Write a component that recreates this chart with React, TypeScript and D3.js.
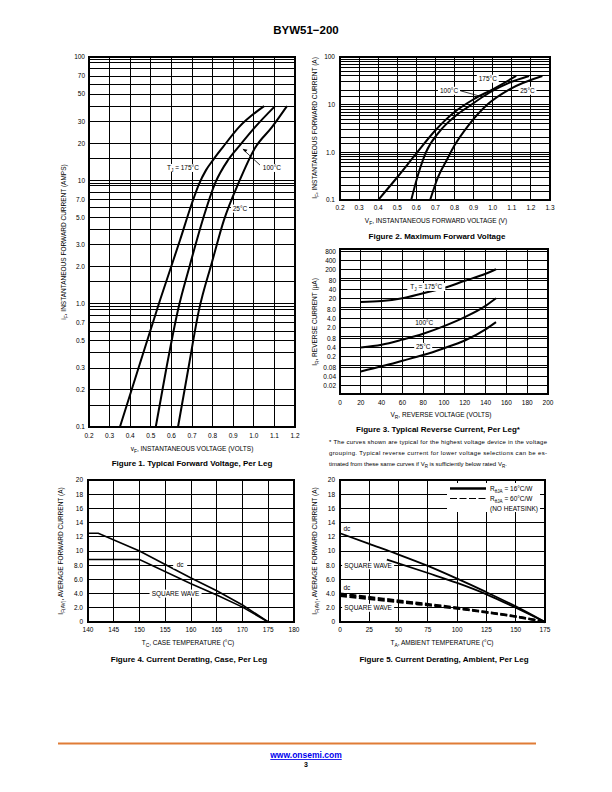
import React from "react";
import * as d3 from "d3";

const FONT = "'Liberation Sans Narrow','Liberation Sans',Arial,Helvetica,sans-serif";
const BOLD = "'Liberation Sans',Arial,Helvetica,sans-serif";

// ---------- Figure 1 : Typical forward voltage ----------
const fig1XTicks = [0.2, 0.3, 0.4, 0.5, 0.6, 0.7, 0.8, 0.9, 1.0, 1.1, 1.2];
const fig1XTickText = ["0.2", "0.3", "0.4", "0.5", "0.6", "0.7", "0.8", "0.9", "1.0", "1.1", "1.2"];
const fig1YTicks = [100, 70, 50, 30, 20, 10, 7, 5, 3, 2, 1, 0.7, 0.5, 0.3, 0.2, 0.1];
const fig1YTickText = ["100", "70", "50", "30", "20", "10", "7.0", "5.0", "3.0", "2.0", "1.0", "0.7", "0.5", "0.3", "0.2", "0.1"];
const fig1GridMults = [1, 1.5, 2, 3, 4, 5, 6, 7, 8, 9, 9.5];
const fig1Decades = [0.1, 1, 10];
const fig1V175 = [0.35, 0.448, 0.545, 0.642, 0.7, 0.734, 0.768, 0.802, 0.85, 0.928, 1.05];
const fig1I175 = [0.1, 0.33, 1.07, 3.28, 6.55, 9.33, 12.1, 14.6, 18.6, 27, 40];
const fig1V100 = [0.524, 0.574, 0.632, 0.69, 0.749, 0.815, 0.875, 0.933, 1.006, 1.103];
const fig1I100 = [0.1, 0.29, 0.89, 2.06, 4.6, 9.7, 14.6, 19.3, 27, 40];
const fig1V25 = [0.632, 0.681, 0.734, 0.797, 0.855, 0.928, 1.006, 1.088, 1.161];
const fig1I25 = [0.1, 0.29, 0.89, 2.17, 4.76, 9.7, 18.3, 27, 40];

// ---------- Figure 2 : Maximum forward voltage ----------
const fig2XTicks = [0.2, 0.3, 0.4, 0.5, 0.6, 0.7, 0.8, 0.9, 1.0, 1.1, 1.2, 1.3];
const fig2XTickText = ["0.2", "0.3", "0.4", "0.5", "0.6", "0.7", "0.8", "0.9", "1.0", "1.1", "1.2", "1.3"];
const fig2YTicks = [100, 10, 1, 0.1];
const fig2YTickText = ["100", "10", "1.0", "0.1"];
const fig2GridMults = [1, 1.5, 2, 3, 4, 5, 6, 7, 8, 9];
const fig2Decades = [0.1, 1, 10];
const fig2VA = [0.4, 0.5, 0.6, 0.7, 0.8, 0.9, 1.0, 1.123];
const fig2IA = [0.1, 0.3, 0.95, 2.9, 7.0, 13, 21, 40];
const fig2VB = [0.573, 0.61, 0.65, 0.72, 0.8, 0.88, 0.984, 1.088, 1.19];
const fig2IB = [0.1, 0.35, 1.0, 2.7, 5.6, 9.5, 18, 29, 40];
const fig2VC = [0.672, 0.713, 0.76, 0.8, 0.871, 0.975, 1.088, 1.26];
const fig2IC = [0.1, 0.3, 0.7, 1.4, 3.6, 10.3, 21, 40];

// ---------- Figure 3 : Typical reverse current ----------
const fig3XTicks = [0, 20, 40, 60, 80, 100, 120, 140, 160, 180, 200];
const fig3YTicks = [800, 400, 200, 80, 40, 20, 8, 4, 2, 0.8, 0.4, 0.2, 0.08, 0.04, 0.02];
const fig3YTickText = ["800", "400", "200", "80", "40", "20", "8.0", "4.0", "2.0", "0.8", "0.4", "0.2", "0.08", "0.04", "0.02"];
const fig3GridMults = [1, 2, 4, 8];
const fig3Decades = [0.01, 0.1, 1, 10, 100];
const fig3VR = [20, 40, 60, 80, 100, 120, 140, 150];
const fig3I175 = [15, 16, 20, 30, 45, 80, 140, 200];
const fig3I100 = [0.4, 0.5, 0.75, 1.2, 2.2, 4.5, 11, 20];
const fig3I25 = [0.06, 0.09, 0.14, 0.22, 0.38, 0.7, 1.7, 3];

// ---------- Figure 4 : Current derating, case ----------
const fig4XTicks = [140, 145, 150, 155, 160, 165, 170, 175, 180];
const fig4YTicks = [0, 2, 4, 6, 8, 10, 12, 14, 16, 18, 20];
const fig4YTickText = ["0", "2.0", "4.0", "6.0", "8.0", "10", "12", "14", "16", "18", "20"];
const fig4TDc = [140, 142, 150, 160, 165, 170, 175];
const fig4IDc = [12.5, 12.5, 10, 6.2, 4.4, 2.4, 0];
const fig4TSq = [140, 150, 160, 165, 170, 175];
const fig4ISq = [8.8, 8.8, 5.4, 3.8, 2.1, 0];

// ---------- Figure 5 : Current derating, ambient ----------
const fig5XTicks = [0, 25, 50, 75, 100, 125, 150, 175];
const fig5YTicks = [0, 2, 4, 6, 8, 10, 12, 14, 16, 18, 20];
const fig5YTickText = ["0", "2.0", "4.0", "6.0", "8.0", "10", "12", "14", "16", "18", "20"];
const fig5TDc16 = [0, 25, 50, 75, 100, 125, 150, 175];
const fig5IDc16 = [12.5, 11.0, 9.5, 7.9, 6.1, 4.2, 2.2, 0];
const fig5TSq16 = [40, 75, 100, 125, 150, 175];
const fig5ISq16 = [8.8, 6.9, 5.5, 3.9, 2.0, 0];
const fig5TDc60 = [0, 50, 100, 125, 150, 175];
const fig5IDc60 = [4.0, 3.0, 2.0, 1.4, 0.8, 0];
const fig5TSq60 = [0, 50, 100, 125, 150, 175];
const fig5ISq60 = [3.7, 2.8, 1.9, 1.35, 0.75, 0];

type Sc = (v: number) => number;

function curvePath(xs: number[], ys: number[], sx: Sc, sy: Sc, curve: any = d3.curveMonotoneX) {
  const gen = d3
    .line<number>()
    .x((i) => sx(xs[i]))
    .y((i) => sy(ys[i]))
    .curve(curve);
  return gen(d3.range(xs.length)) || "";
}

function SubText(props: {
  x: number;
  y: number;
  main: string;
  sub: string;
  rest: string;
  size?: number;
  rotate?: boolean;
  anchor?: string;
}) {
  const s = props.size || 6.5;
  const tr = props.rotate ? `rotate(-90 ${props.x} ${props.y})` : undefined;
  return (
    <text x={props.x} y={props.y} fontSize={s} textAnchor={props.anchor || "middle"} transform={tr} fontFamily={FONT}>
      {props.main}
      <tspan dy={1.6} fontSize={s * 0.75}>
        {props.sub}
      </tspan>
      <tspan dy={-1.6}>{props.rest}</tspan>
    </text>
  );
}

function BoxLabel(props: { cx: number; cy: number; w: number; h?: number; children: any }) {
  const h = props.h || 8;
  return (
    <g>
      <rect x={props.cx - props.w / 2} y={props.cy - h / 2} width={props.w} height={h} fill="#fff" />
      <text x={props.cx} y={props.cy + 2.3} fontSize={6.5} textAnchor="middle" fontFamily={FONT}>
        {props.children}
      </text>
    </g>
  );
}

function Grid(props: { sx: any; sy: any; xs: number[]; ys: number[]; x0: number; x1: number; y0: number; y1: number }) {
  const { sx, sy, xs, ys, x0, x1, y0, y1 } = props;
  return (
    <g stroke="#000" strokeWidth={1} shapeRendering="crispEdges">
      {xs.map((v, i) => (
        <line key={"v" + i} x1={sx(v)} x2={sx(v)} y1={y0} y2={y1} />
      ))}
      {ys.map((v, i) => (
        <line key={"h" + i} x1={x0} x2={x1} y1={sy(v)} y2={sy(v)} />
      ))}
      <rect x={x0} y={y0} width={x1 - x0} height={y1 - y0} fill="none" strokeWidth={1.2} />
    </g>
  );
}

function Fig1() {
  const L = 89, R = 295, T = 57, B = 427;
  const sx = d3.scaleLinear().domain([0.2, 1.2]).range([L, R]);
  const sy = d3.scaleLog().domain([0.1, 100]).range([B, T]);
  const hs = [...fig1Decades.flatMap((d) => fig1GridMults.map((m) => m * d)), 100];
  return (
    <g>
      <Grid sx={sx} sy={sy} xs={fig1XTicks} ys={hs} x0={L} x1={R} y0={T} y1={B} />
      {fig1YTicks.map((v, i) => (
        <text key={i} x={L - 4} y={sy(v) + 2.3} fontSize={6.5} textAnchor="end">
          {fig1YTickText[i]}
        </text>
      ))}
      {fig1XTicks.map((v, i) => (
        <text key={i} x={sx(v)} y={B + 11} fontSize={6.5} textAnchor="middle">
          {fig1XTickText[i]}
        </text>
      ))}
      <g fill="none" stroke="#000" strokeWidth={2}>
        <path d={curvePath(fig1V175, fig1I175, sx, sy)} />
        <path d={curvePath(fig1V100, fig1I100, sx, sy)} />
        <path d={curvePath(fig1V25, fig1I25, sx, sy)} />
      </g>
      <BoxLabel cx={sx(0.656)} cy={sy(12.6)} w={40}>
        T<tspan dy={1.6} fontSize={4.8}>J</tspan>
        <tspan dy={-1.6}> = 175°C</tspan>
      </BoxLabel>
      <line x1={sx(1.03)} y1={sy(13.3)} x2={sx(0.948)} y2={sy(17.8)} stroke="#000" strokeWidth={0.8} />
      <path d={`M${sx(0.945)},${sy(18)} l5,1 l-2,2.5 z`} fill="#000" />
      <BoxLabel cx={sx(1.088)} cy={sy(12.6)} w={22}>
        100°C
      </BoxLabel>
      <BoxLabel cx={sx(0.933)} cy={sy(5.9)} w={18}>
        25°C
      </BoxLabel>
      <SubText x={66} y={242} main="i" sub="F" rest=", INSTANTANEOUS FORWARD CURRENT (AMPS)" rotate />
      <SubText x={192} y={451} main="v" sub="F" rest=", INSTANTANEOUS VOLTAGE (VOLTS)" />
      <text x={192} y={466} fontSize={8} fontWeight="bold" textAnchor="middle" fontFamily={BOLD}>
        Figure 1. Typical Forward Voltage, Per Leg
      </text>
    </g>
  );
}

function Fig2() {
  const L = 340, R = 550, T = 57, B = 200;
  const sx = d3.scaleLinear().domain([0.2, 1.3]).range([L, R]);
  const sy = d3.scaleLog().domain([0.1, 100]).range([B, T]);
  const hs = [...fig2Decades.flatMap((d) => fig2GridMults.map((m) => m * d)), 100];
  return (
    <g>
      <Grid sx={sx} sy={sy} xs={fig2XTicks} ys={hs} x0={L} x1={R} y0={T} y1={B} />
      {fig2YTicks.map((v, i) => (
        <text key={i} x={L - 5} y={sy(v) + 2.3} fontSize={6.5} textAnchor="end">
          {fig2YTickText[i]}
        </text>
      ))}
      {fig2XTicks.map((v, i) => (
        <text key={i} x={sx(v)} y={B + 9.5} fontSize={6.5} textAnchor="middle">
          {fig2XTickText[i]}
        </text>
      ))}
      <g fill="none" stroke="#000" strokeWidth={2}>
        <path d={curvePath(fig2VA, fig2IA, sx, sy)} />
        <path d={curvePath(fig2VB, fig2IB, sx, sy)} />
        <path d={curvePath(fig2VC, fig2IC, sx, sy)} />
      </g>
      <line x1={sx(0.83)} y1={sy(19.6)} x2={sx(0.948)} y2={sy(14.5)} stroke="#000" strokeWidth={0.8} />
      <BoxLabel cx={sx(0.974)} cy={sy(35)} w={22}>
        175°C
      </BoxLabel>
      <BoxLabel cx={sx(0.771)} cy={sy(19.6)} w={22}>
        100°C
      </BoxLabel>
      <BoxLabel cx={sx(1.182)} cy={sy(19.6)} w={18}>
        25°C
      </BoxLabel>
      <SubText x={317} y={128} main="I" sub="F" rest=", INSTANTANEOUS FORWARD CURRENT (A)" rotate />
      <SubText x={436} y={223} main="V" sub="F" rest=", INSTANTANEOUS FORWARD VOLTAGE (V)" />
      <text x={437} y={239} fontSize={8} fontWeight="bold" textAnchor="middle" fontFamily={BOLD}>
        Figure 2. Maximum Forward Voltage
      </text>
    </g>
  );
}

function Fig3() {
  const L = 340, R = 548, T = 249, B = 394;
  const sx = d3.scaleLinear().domain([0, 200]).range([L, R]);
  const sy = d3.scaleLog().domain([0.01, 1000]).range([B, T]);
  const hs = fig3Decades.flatMap((d) => fig3GridMults.map((m) => m * d));
  return (
    <g>
      <Grid sx={sx} sy={sy} xs={fig3XTicks} ys={hs} x0={L} x1={R} y0={T} y1={B} />
      {fig3YTicks.map((v, i) => (
        <text key={i} x={L - 4} y={sy(v) + 2.3} fontSize={6.5} textAnchor="end">
          {fig3YTickText[i]}
        </text>
      ))}
      {fig3XTicks.map((v, i) => (
        <text key={i} x={sx(v)} y={B + 11} fontSize={6.5} textAnchor="middle">
          {String(v)}
        </text>
      ))}
      <g fill="none" stroke="#000" strokeWidth={2}>
        <path d={curvePath(fig3VR, fig3I175, sx, sy)} />
        <path d={curvePath(fig3VR, fig3I100, sx, sy)} />
        <path d={curvePath(fig3VR, fig3I25, sx, sy)} />
      </g>
      <BoxLabel cx={sx(83)} cy={sy(49)} w={38}>
        T<tspan dy={1.6} fontSize={4.8}>J</tspan>
        <tspan dy={-1.6}> = 175°C</tspan>
      </BoxLabel>
      <BoxLabel cx={sx(81)} cy={sy(2.8)} w={22}>
        100°C
      </BoxLabel>
      <BoxLabel cx={sx(80)} cy={sy(0.42)} w={18}>
        25°C
      </BoxLabel>
      <SubText x={317} y={322} main="I" sub="R" rest=", REVERSE CURRENT (μA)" rotate />
      <SubText x={441} y={417} main="V" sub="R" rest=", REVERSE VOLTAGE (VOLTS)" />
      <text x={438} y={432} fontSize={8} fontWeight="bold" textAnchor="middle" fontFamily={BOLD}>
        Figure 3. Typical Reverse Current, Per Leg*
      </text>
      <g fontSize={6} fontFamily={FONT}>
        <text x={329} y={444} textLength={218} lengthAdjust="spacing">
          * The curves shown are typical for the highest voltage device in the voltage
        </text>
        <text x={329} y={455} textLength={218} lengthAdjust="spacing">
          grouping. Typical reverse current for lower voltage selections can be es-
        </text>
        <text x={329} y={466}>
          timated from these same curves if V<tspan dy={1.5} fontSize={4.5}>R</tspan>
          <tspan dy={-1.5}> is sufficiently below rated V</tspan>
          <tspan dy={1.5} fontSize={4.5}>R</tspan>
          <tspan dy={-1.5}>.</tspan>
        </text>
      </g>
    </g>
  );
}

function Fig4() {
  const L = 88, R = 294, T = 480, B = 622;
  const sx = d3.scaleLinear().domain([140, 180]).range([L, R]);
  const sy = d3.scaleLinear().domain([0, 20]).range([B, T]);
  return (
    <g>
      <Grid sx={sx} sy={sy} xs={fig4XTicks} ys={fig4YTicks} x0={L} x1={R} y0={T} y1={B} />
      {fig4YTicks.map((v, i) => (
        <text key={i} x={L - 5} y={sy(v) + 2.3} fontSize={6.5} textAnchor="end">
          {fig4YTickText[i]}
        </text>
      ))}
      {fig4XTicks.map((v, i) => (
        <text key={i} x={sx(v)} y={B + 10} fontSize={6.5} textAnchor="middle">
          {String(v)}
        </text>
      ))}
      <g fill="none" stroke="#000" strokeWidth={1.6}>
        <path d={curvePath(fig4TDc, fig4IDc, sx, sy, d3.curveLinear)} />
        <path d={curvePath(fig4TSq, fig4ISq, sx, sy, d3.curveLinear)} />
      </g>
      <BoxLabel cx={sx(157.9)} cy={sy(8.1)} w={14}>
        dc
      </BoxLabel>
      <BoxLabel cx={sx(157)} cy={sy(4.0)} w={52}>
        SQUARE WAVE
      </BoxLabel>
      <SubText x={63} y={551} main="I" sub="F(AV)" rest=", AVERAGE FORWARD CURRENT (A)" rotate />
      <SubText x={188} y={645} main="T" sub="C" rest=", CASE TEMPERATURE (°C)" />
      <text x={189} y={662} fontSize={8} fontWeight="bold" textAnchor="middle" fontFamily={BOLD}>
        Figure 4. Current Derating, Case, Per Leg
      </text>
    </g>
  );
}

function Fig5() {
  const L = 340, R = 545, T = 480, B = 622;
  const sx = d3.scaleLinear().domain([0, 175]).range([L, R]);
  const sy = d3.scaleLinear().domain([0, 20]).range([B, T]);
  return (
    <g>
      <Grid sx={sx} sy={sy} xs={fig5XTicks} ys={fig5YTicks} x0={L} x1={R} y0={T} y1={B} />
      {fig5YTicks.map((v, i) => (
        <text key={i} x={L - 5} y={sy(v) + 2.3} fontSize={6.5} textAnchor="end">
          {fig5YTickText[i]}
        </text>
      ))}
      {fig5XTicks.map((v, i) => (
        <text key={i} x={sx(v)} y={B + 10} fontSize={6.5} textAnchor="middle">
          {String(v)}
        </text>
      ))}
      <BoxLabel cx={sx(24)} cy={sy(8.0)} w={52}>
        SQUARE WAVE
      </BoxLabel>
      <BoxLabel cx={sx(24)} cy={sy(2.0)} w={52}>
        SQUARE WAVE
      </BoxLabel>
      <text x={sx(3)} y={sy(13.2) + 2.3} fontSize={6.5}>dc</text>
      <text x={sx(3)} y={sy(4.9) + 2.3} fontSize={6.5}>dc</text>
      <g fill="none" stroke="#000" strokeWidth={1.8}>
        <path d={curvePath(fig5TDc16, fig5IDc16, sx, sy)} />
        <path d={curvePath(fig5TSq16, fig5ISq16, sx, sy)} />
      </g>
      <g fill="none" stroke="#000" strokeWidth={2.4} strokeDasharray="7,2.5">
        <path d={curvePath(fig5TDc60, fig5IDc60, sx, sy)} />
        <path d={curvePath(fig5TSq60, fig5ISq60, sx, sy)} />
      </g>
      <rect x={447} y={483} width={93} height={29} fill="#fff" />
      <line x1={450} x2={486} y1={488.5} y2={488.5} stroke="#000" strokeWidth={2.4} />
      <line x1={450} x2={486} y1={498.5} y2={498.5} stroke="#000" strokeWidth={1.2} strokeDasharray="7,2.5" />
      <g fontSize={6.5}>
        <text x={490} y={491}>
          R<tspan dy={1.5} fontSize={4.6}>θJA</tspan>
          <tspan dy={-1.5}> = 16°C/W</tspan>
        </text>
        <text x={490} y={501}>
          R<tspan dy={1.5} fontSize={4.6}>θJA</tspan>
          <tspan dy={-1.5}> = 60°C/W</tspan>
        </text>
        <text x={490} y={510.5}>(NO HEATSINK)</text>
      </g>
      <SubText x={317} y={551} main="I" sub="F(AV)" rest=", AVERAGE FORWARD CURRENT (A)" rotate />
      <SubText x={442} y={645} main="T" sub="A" rest=", AMBIENT TEMPERATURE (°C)" />
      <text x={444} y={662} fontSize={8} fontWeight="bold" textAnchor="middle" fontFamily={BOLD}>
        Figure 5. Current Derating, Ambient, Per Leg
      </text>
    </g>
  );
}

export default function App() {
  return (
    <svg
      width={612}
      height={792}
      viewBox="0 0 612 792"
      style={{ position: "absolute", left: 0, top: 0, background: "#fff" }}
      fontFamily={FONT}
    >
      <rect width={612} height={792} fill="#fff" />
      <text x={306} y={34} textAnchor="middle" fontFamily={BOLD} fontWeight="bold" fontSize={11.5}>
        BYW51−200
      </text>
      <Fig1 />
      <Fig2 />
      <Fig3 />
      <Fig4 />
      <Fig5 />
      <line x1={58} x2={536} y1={743.5} y2={743.5} stroke="#E07C36" strokeWidth={2} />
      <text
        x={306}
        y={758}
        textAnchor="middle"
        fontFamily={BOLD}
        fontWeight="bold"
        fontSize={8.5}
        fill="#0000EE"
        textDecoration="underline"
      >
        www.onsemi.com
      </text>
      <text x={306} y={767} textAnchor="middle" fontFamily={BOLD} fontWeight="bold" fontSize={7}>
        3
      </text>
    </svg>
  );
}
